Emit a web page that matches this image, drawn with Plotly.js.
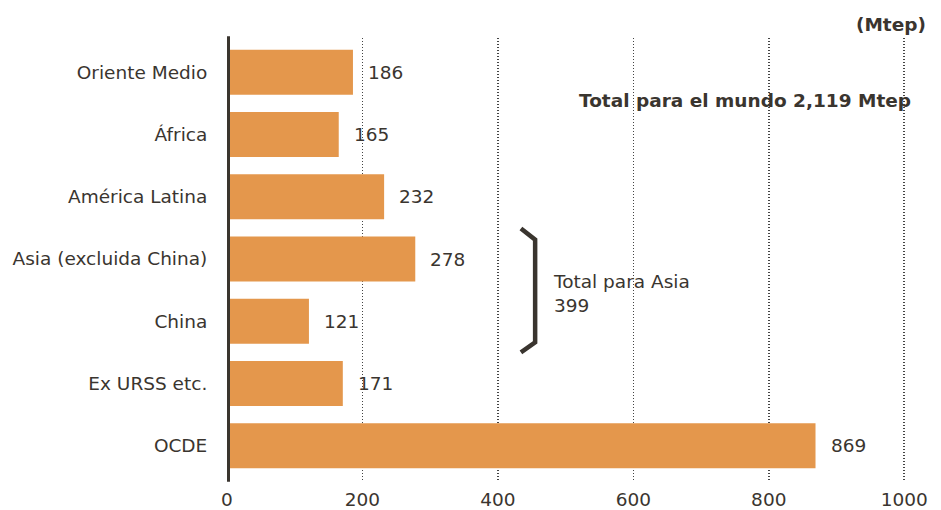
<!DOCTYPE html>
<html>
<head>
<meta charset="utf-8">
<script src="https://cdn.plot.ly/plotly-3.0.1.min.js"></script>
<style>
  html, body { margin: 0; padding: 0; background: #fff; }
  #chart { width: 941px; height: 510px; }
</style>
</head>
<body>
<div id="chart"></div>
<script>
// Regional consumption, in Mtep
const regions = ["Oriente Medio", "África", "América Latina", "Asia (excluida China)", "China", "Ex URSS etc.", "OCDE"];
const consumption = [186, 165, 232, 278, 121, 171, 869];
const xTicks = [0, 200, 400, 600, 800, 1000];
const unitLabel = "(Mtep)";
const worldTotalLabel = "Total para el mundo 2,119 Mtep";
const asiaTotalLabel = "Total para Asia<br>399";

const ink = "#3a352f";
const barColor = "#E4974C";
const font = "DejaVu Sans, Verdana, sans-serif";
const fs = 18.5;

const trace = {
  type: "bar",
  orientation: "h",
  y: regions,
  x: consumption,
  width: 0.72,
  marker: { color: barColor, line: { width: 0 } },
  hoverinfo: "none"
};

// value labels just past the end of each bar
const valueNotes = regions.map((r, i) => ({
  x: consumption[i], y: r, xref: "x", yref: "y",
  text: String(consumption[i]), showarrow: false,
  xanchor: "left", yanchor: "middle", xshift: 13,
  font: { family: font, size: fs, color: ink }
}));

const asiaIdx = regions.indexOf("Asia (excluida China)");
const chinaIdx = regions.indexOf("China");

const layout = {
  width: 941, height: 510,
  margin: { l: 227, r: 30, t: 38, b: 30 },
  paper_bgcolor: "#fff", plot_bgcolor: "#fff",
  showlegend: false,
  font: { family: font, size: fs, color: ink },
  xaxis: {
    range: [0, 1010],
    tickvals: xTicks,
    ticktext: xTicks.map(String),
    showgrid: true, gridcolor: "#444", griddash: "1px,2px", gridwidth: 1.5,
    zeroline: false, showline: false,
    ticks: "", ticklabelstandoff: 6,
    tickfont: { family: font, size: fs, color: ink },
    fixedrange: true
  },
  yaxis: {
    type: "category",
    categoryorder: "array", categoryarray: regions,
    range: [6.55, -0.55],
    showgrid: false, zeroline: false, showline: false,
    ticks: "outside", ticklen: 15, tickcolor: "rgba(0,0,0,0)",
    tickfont: { family: font, size: fs, color: ink },
    fixedrange: true
  },
  shapes: [
    // vertical axis bar at zero
    { type: "line", xref: "x", yref: "paper", x0: 0, x1: 0, y0: -0.004, y1: 1.004,
      line: { color: ink, width: 6 }, layer: "above" },
    // bracket grouping the two Asian rows
    { type: "path", xref: "x", yref: "y",
      path: `M 434 ${asiaIdx - 0.49} L 455 ${asiaIdx - 0.31} L 455 ${chinaIdx + 0.34} L 434 ${chinaIdx + 0.5}`,
      line: { color: ink, width: 4.5 }, layer: "above" }
  ],
  annotations: valueNotes.concat([
    { xref: "paper", yref: "paper", x: 1, y: 1, xanchor: "right", yanchor: "bottom",
      xshift: 17, yshift: 1, text: "<b>" + unitLabel + "</b>", showarrow: false,
      font: { family: font, size: fs, color: ink } },
    { xref: "paper", yref: "y", x: 1, y: 0.45, xanchor: "right", yanchor: "middle",
      xshift: 2, text: "<b>" + worldTotalLabel + "</b>", showarrow: false,
      font: { family: font, size: fs, color: ink } },
    { xref: "x", yref: "y", x: 478, y: (asiaIdx + chinaIdx) / 2 + 0.06,
      xanchor: "left", yanchor: "middle", align: "left",
      text: asiaTotalLabel, showarrow: false,
      font: { family: font, size: fs, color: ink } }
  ])
};

Plotly.newPlot("chart", [trace], layout, { displayModeBar: false, staticPlot: true });
</script>
</body>
</html>
